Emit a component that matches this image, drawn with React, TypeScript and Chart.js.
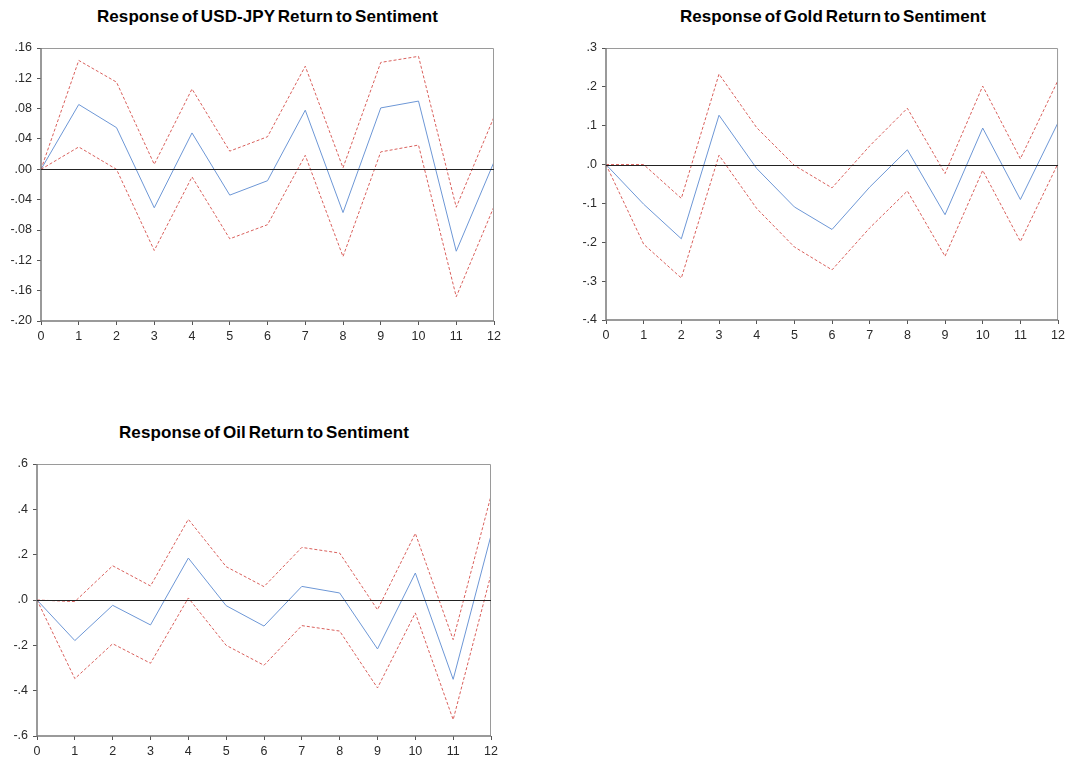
import React, { useEffect, useRef } from "react";
import { Chart, registerables } from "chart.js";

Chart.register(...registerables);

// Horizons 0..12
const horizons = [0, 1, 2, 3, 4, 5, 6, 7, 8, 9, 10, 11, 12];

// USD-JPY return response
const usdJpyResponse = [0, 0.0855, 0.055, -0.0507, 0.048, -0.034, -0.015, 0.078, -0.057, 0.081, 0.09, -0.108, 0.0097];
const usdJpyUpper = [0, 0.1436, 0.115, 0.0066, 0.106, 0.024, 0.043, 0.136, 0.002, 0.141, 0.149, -0.05, 0.069];
const usdJpyLower = [0, 0.0295, 0.0, -0.107, -0.01, -0.0916, -0.073, 0.0185, -0.115, 0.023, 0.032, -0.168, -0.049];

// Gold return response
const goldResponse = [0, -0.102, -0.191, 0.127, -0.01, -0.109, -0.167, -0.058, 0.038, -0.129, 0.094, -0.09, 0.108];
const goldUpper = [0, 0, -0.087, 0.233, 0.095, -0.002, -0.06, 0.048, 0.145, -0.023, 0.202, 0.015, 0.217];
const goldLower = [0, -0.205, -0.292, 0.024, -0.113, -0.212, -0.271, -0.163, -0.068, -0.236, -0.015, -0.198, 0.003];

// Oil return response
const oilResponse = [0, -0.179, -0.0235, -0.11, 0.185, -0.025, -0.115, 0.06, 0.031, -0.216, 0.119, -0.35, 0.285];
const oilUpper = [0, -0.007, 0.151, 0.062, 0.356, 0.147, 0.059, 0.232, 0.207, -0.043, 0.294, -0.175, 0.46];
const oilLower = [0, -0.347, -0.193, -0.279, 0.009, -0.2, -0.288, -0.113, -0.137, -0.388, -0.057, -0.528, 0.113];

const BLUE = "#6d97d6";
const RED = "#d9605c";
const FONT = "'Liberation Sans', Arial, sans-serif";

type PanelProps = {
  title: string;
  response: number[];
  upper: number[];
  lower: number[];
  yMin: number;
  yMax: number;
  yStep: number;
  decimals: number;
  box: { left: number; top: number; width: number; height: number };
  plot: { left: number; top: number; right: number; bottom: number };
  titleY: number;
};

// Strip the leading zero: 0.16 -> ".16", -0.2 -> "-.2"
function fmt(v: number, d: number): string {
  const s = Math.abs(v).toFixed(d).replace(/^0/, "");
  return v < -1e-9 ? "-" + s : s;
}

// Frame around the plot area plus the zero reference line
const framePlugin = {
  id: "frameAndZero",
  afterDatasetsDraw(chart: any) {
    const { ctx, chartArea: a, scales } = chart;
    ctx.save();
    ctx.strokeStyle = "#9a9a9a";
    ctx.lineWidth = 1;
    ctx.beginPath();
    ctx.moveTo(a.left, a.top + 0.5);
    ctx.lineTo(a.right - 0.5, a.top + 0.5);
    ctx.lineTo(a.right - 0.5, a.bottom);
    ctx.stroke();
    ctx.strokeStyle = "#7a7a7a";
    ctx.lineWidth = 1.5;
    ctx.beginPath();
    ctx.moveTo(a.left, a.top);
    ctx.lineTo(a.left, a.bottom);
    ctx.lineTo(a.right, a.bottom);
    ctx.stroke();
    const y0 = Math.round(scales.y.getPixelForValue(0)) + 0.5;
    ctx.strokeStyle = "#222";
    ctx.lineWidth = 1;
    ctx.beginPath();
    ctx.moveTo(a.left, y0);
    ctx.lineTo(a.right, y0);
    ctx.stroke();
    ctx.restore();
  },
};

function Panel(p: PanelProps) {
  const ref = useRef<HTMLCanvasElement | null>(null);
  useEffect(() => {
    if (!ref.current) return;
    const padTop = p.plot.top - p.box.top;
    const padRight = p.box.left + p.box.width - p.plot.right;
    const yW = p.plot.left - p.box.left;
    const xH = p.box.top + p.box.height - p.plot.bottom;
    const pts = (arr: number[]) => horizons.map((h, i) => ({ x: h, y: arr[i] }));
    const chart = new Chart(ref.current, {
      type: "line",
      data: {
        datasets: [
          { data: pts(p.upper), borderColor: RED, borderWidth: 1, borderDash: [3, 2], pointRadius: 0, tension: 0 },
          { data: pts(p.lower), borderColor: RED, borderWidth: 1, borderDash: [3, 2], pointRadius: 0, tension: 0 },
          { data: pts(p.response), borderColor: BLUE, borderWidth: 1, pointRadius: 0, tension: 0 },
        ],
      },
      options: {
        animation: false,
        responsive: false,
        maintainAspectRatio: false,
        layout: { padding: { top: padTop, right: padRight, left: 0, bottom: 0 } },
        plugins: { legend: { display: false }, tooltip: { enabled: false }, title: { display: false } },
        scales: {
          x: {
            type: "linear",
            min: 0,
            max: 12,
            grid: { drawOnChartArea: false, drawTicks: true, tickLength: 4, color: "#555" },
            border: { display: false },
            ticks: { stepSize: 1, autoSkip: false, maxRotation: 0, padding: 4, color: "#2a2a2a", font: { family: FONT, size: 12.5 } },
            afterFit: (s: any) => { s.height = xH; },
          },
          y: {
            min: p.yMin,
            max: p.yMax,
            grid: { drawOnChartArea: false, drawTicks: true, tickLength: 4, color: "#555" },
            border: { display: false },
            ticks: {
              stepSize: p.yStep,
              padding: 5,
              color: "#2a2a2a",
              font: { family: FONT, size: 12.5 },
              callback: (v: any) => fmt(Number(v), p.decimals),
            },
            afterFit: (s: any) => { s.width = yW; },
          },
        },
      },
      plugins: [framePlugin],
    });
    return () => chart.destroy();
  }, []);
  const center = (p.plot.left + p.plot.right) / 2;
  return (
    <>
      <div
        style={{
          position: "absolute",
          left: center - 250,
          width: 500,
          top: p.titleY,
          textAlign: "center",
          fontFamily: FONT,
          fontWeight: "bold",
          fontSize: 17,
          letterSpacing: 0.1,
          wordSpacing: -2,
          lineHeight: "20px",
          color: "#000",
          whiteSpace: "nowrap",
        }}
      >
        {p.title}
      </div>
      <canvas
        ref={ref}
        width={p.box.width}
        height={p.box.height}
        style={{ position: "absolute", left: p.box.left, top: p.box.top, width: p.box.width, height: p.box.height }}
      />
    </>
  );
}

export default function App() {
  return (
    <div style={{ position: "absolute", left: 0, top: 0, width: 1069, height: 762, background: "#fff", overflow: "hidden" }}>
      <Panel
        title="Response of USD-JPY Return to Sentiment"
        response={usdJpyResponse}
        upper={usdJpyUpper}
        lower={usdJpyLower}
        yMin={-0.2}
        yMax={0.16}
        yStep={0.04}
        decimals={2}
        box={{ left: 0, top: 30, width: 510, height: 320 }}
        plot={{ left: 41, top: 48, right: 494, bottom: 321 }}
        titleY={7}
      />
      <Panel
        title="Response of Gold Return to Sentiment"
        response={goldResponse}
        upper={goldUpper}
        lower={goldLower}
        yMin={-0.4}
        yMax={0.3}
        yStep={0.1}
        decimals={1}
        box={{ left: 560, top: 30, width: 509, height: 320 }}
        plot={{ left: 606, top: 48, right: 1060, bottom: 320 }}
        titleY={7}
      />
      <Panel
        title="Response of Oil Return to Sentiment"
        response={oilResponse}
        upper={oilUpper}
        lower={oilLower}
        yMin={-0.6}
        yMax={0.6}
        yStep={0.2}
        decimals={1}
        box={{ left: 0, top: 445, width: 510, height: 317 }}
        plot={{ left: 37, top: 464, right: 491, bottom: 736 }}
        titleY={423}
      />
    </div>
  );
}
